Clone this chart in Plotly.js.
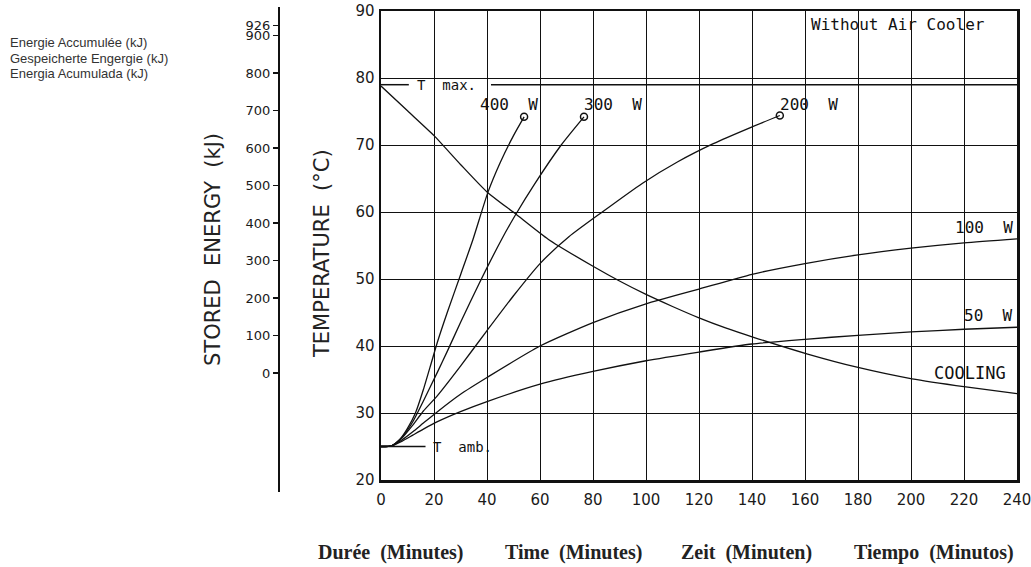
<!DOCTYPE html>
<html><head><meta charset="utf-8">
<script src="https://cdn.plot.ly/plotly-3.0.1.min.js"></script>
<style>html,body{margin:0;padding:0;background:#fff}#chart{width:1031px;height:567px}</style>
</head><body><div id="chart"></div>
<script>
// ---- data ----
const T_MAX = 79, T_AMB = 25;
const t400 = [0,4,7,10,13,16,19,21.3,25,30,34.7,40.4,45,50,54];
const T400 = [25,25.1,26,27.7,30,33.5,37.5,40.6,45,50.6,55.9,63,67.4,71.4,74.2];
const t300 = [0,4,8,12,16,21.3,25,30,37,45.5,50.5,58,68,76.6];
const T300 = [25,25.1,26.4,28.7,31.8,36.1,39.2,43.5,49.3,55.9,59.4,64.2,70,74.2];
const t200 = [0,4,8,12,16,21.3,30,40,50,60,70.9,83.5,98.7,112,125.4,139.4,150.5];
const T200 = [25,25.1,26.3,28.2,30.3,32.6,37,42.3,47.5,52.3,56.3,60,64.3,67.5,70.2,72.6,74.4];
const t100 = [0,4,8,12,16,21.3,30,40,60,80,100,120,140,160,180,200,220,240];
const T100 = [25,25.1,26,27.2,28.5,30.2,32.8,35.3,40,43.5,46.3,48.5,50.7,52.3,53.6,54.6,55.4,56];
const t50 = [0,4,8,12,16,21.3,30,40,60,80,100,120,140,160,180,200,220,240];
const T50 = [25,25.1,25.8,26.7,27.6,28.7,30.2,31.7,34.3,36.2,37.8,39.1,40.3,41,41.6,42.1,42.5,42.8];
const tCool = [0,10,20,30,40,50.5,63.2,80,90,100,110,120,130,140.6,161,180,200.4,220.7,240];
const TCool = [78.8,75.1,71.4,67.1,63,59.8,55.9,51.9,49.7,47.7,45.9,44.2,42.7,41.3,38.8,36.8,35.1,33.9,32.9];
const timeTicks = [0,20,40,60,80,100,120,140,160,180,200,220,240];
const tempTicks = [20,30,40,50,60,70,80,90];
const energyTicks = [0,100,200,300,400,500,600,700,800,900,926];
const energyTickText = ['0','100','200','300','400','500','600','700','800','900','926'];
const seriesLabels = ['400\u00a0\u00a0W','300\u00a0\u00a0W','200\u00a0\u00a0W','100\u00a0\u00a0W','50\u00a0\u00a0W','COOLING'];
const leftTexts = ['Energie Accumulée (kJ)','Gespeicherte Engergie (kJ)','Energia Acumulada (kJ)'];
const bottomTexts = ['Durée\u00a0\u00a0(Minutes)','Time\u00a0\u00a0(Minutes)','Zeit\u00a0\u00a0(Minuten)','Tiempo\u00a0\u00a0(Minutos)'];

// ---- pixel helpers for paper coordinates ----
const ML = 240, MR = 14, MT = 7, MB = 75, W = 1031, H = 567;
const PW = W - ML - MR, PH = H - MT - MB;
const px = v => (v - ML) / PW;
const py = v => (H - MB - v) / PH;

const lineStyle = {color:'#111', width:1.3, shape:'spline', smoothing:0.6};
function curve(x, y) {
  return {x:x, y:y, type:'scatter', mode:'lines', line:lineStyle, hoverinfo:'skip', showlegend:false, cliponaxis:false};
}
const ends = [[t400,T400],[t300,T300],[t200,T200]];
const traces = [
  curve(t400,T400), curve(t300,T300), curve(t200,T200),
  curve(t100,T100), curve(t50,T50), curve(tCool,TCool),
  {x: ends.map(e=>e[0][e[0].length-1]), y: ends.map(e=>e[1][e[1].length-1]),
   type:'scatter', mode:'markers', hoverinfo:'skip', showlegend:false,
   marker:{symbol:'circle-open', size:7, color:'#111', line:{width:1.5, color:'#111'}}},
  {x:[null], y:[null], xaxis:'x2', yaxis:'y2', type:'scatter', mode:'lines', showlegend:false, hoverinfo:'skip'}
];

const tickFont = {family:'DejaVu Sans', size:15, color:'#1a1a1a'};
const monoFont = {family:'DejaVu Sans Mono', size:16, color:'#111'};
function lab(text, x, y, extra) {
  return Object.assign({text:text, x:x, y:y, xref:'x', yref:'y', xanchor:'center', yanchor:'middle',
    showarrow:false, font:monoFont}, extra||{});
}
const annotations = [
  lab(seriesLabels[0], 48.4, 76),
  lab(seriesLabels[1], 87.6, 76),
  lab(seriesLabels[2], 161.5, 76.1),
  lab(seriesLabels[3], 227.4, 57.7),
  lab(seriesLabels[4], 229.3, 44.6),
  lab(seriesLabels[5], 222.3, 36, {font:{family:'DejaVu Sans Mono', size:17, color:'#111'}}),
  lab('Without Air Cooler', 195, 88),
  lab('T\u00a0\u00a0max.', 13, T_MAX, {xanchor:'left', font:{family:'DejaVu Sans Mono', size:14, color:'#111'}}),
  lab('T\u00a0\u00a0amb.', 18.7, T_AMB, {xanchor:'left', font:{family:'DejaVu Sans Mono', size:14, color:'#111'}}),
  {text:'STORED\u00a0\u00a0ENERGY\u00a0\u00a0(kJ)', xref:'paper', yref:'paper', x:px(213), y:py(250), textangle:-90,
   xanchor:'center', yanchor:'middle', showarrow:false, font:{family:'DejaVu Sans', size:21, color:'#222'}},
  {text:'TEMPERATURE\u00a0\u00a0(°C)', xref:'paper', yref:'paper', x:px(322), y:py(254), textangle:-90,
   xanchor:'center', yanchor:'middle', showarrow:false, font:{family:'DejaVu Sans', size:21, color:'#222'}}
];
[43,59,74].forEach((yy,i)=>annotations.push({text:leftTexts[i], xref:'paper', yref:'paper', x:px(8), y:py(yy),
  xanchor:'left', yanchor:'middle', showarrow:false, font:{family:'Liberation Sans', size:13, color:'#333'}}));
[316,503,679,852].forEach((xx,i)=>annotations.push({text:'<b>'+bottomTexts[i]+'</b>', xref:'paper', yref:'paper',
  x:px(xx), y:py(552), xanchor:'left', yanchor:'middle', showarrow:false,
  font:{family:'Liberation Serif', size:20, color:'#222'}}));

const shapes = [
  {type:'line', xref:'x', yref:'y', x0:0, x1:10.5, y0:T_MAX, y1:T_MAX, line:{color:'#111', width:1.5}},
  {type:'line', xref:'x', yref:'y', x0:41.5, x1:240, y0:T_MAX, y1:T_MAX, line:{color:'#111', width:1.5}},
  {type:'line', xref:'x', yref:'y', x0:0, x1:16.8, y0:T_AMB, y1:T_AMB, line:{color:'#111', width:1.3}}
];

const layout = {
  width:W, height:H, margin:{l:ML, r:MR, t:MT, b:MB, pad:0},
  paper_bgcolor:'#fff', plot_bgcolor:'rgba(0,0,0,0)', showlegend:false,
  font:{family:'DejaVu Sans', size:15, color:'#1a1a1a'},
  xaxis:{domain:[px(381),1], range:[0,240], tickmode:'array', tickvals:timeTicks, ticklabeloverflow:'allow',
    showgrid:true, gridcolor:'#111', gridwidth:1,
    showline:true, linecolor:'#111', linewidth:2.5, mirror:true, zeroline:false,
    ticks:'outside', ticklen:4, tickcolor:'rgba(0,0,0,0)', tickfont:tickFont, fixedrange:true},
  yaxis:{domain:[py(480),py(11)], range:[20,90], tickmode:'array', tickvals:tempTicks, ticklabeloverflow:'allow',
    showgrid:true, gridcolor:'#111', gridwidth:1,
    showline:true, linecolor:'#111', linewidth:2.5, mirror:true, zeroline:false,
    ticks:'outside', ticklen:1, tickcolor:'rgba(0,0,0,0)', tickfont:tickFont, fixedrange:true},
  xaxis2:{domain:[0,0.001], anchor:'y2', visible:false, range:[0,1], fixedrange:true},
  yaxis2:{domain:[0,1], anchor:'free', position:px(279), range:[-317.33,976],
    tickvals:energyTicks, ticktext:energyTickText, showgrid:false, zeroline:false,
    showline:true, linecolor:'#111', linewidth:2.2, ticks:'outside', ticklen:5, tickwidth:1.2, tickcolor:'#111',
    tickfont:{family:'DejaVu Sans', size:13, color:'#1a1a1a'}, fixedrange:true},
  annotations:annotations, shapes:shapes
};
Plotly.newPlot('chart', traces, layout, {staticPlot:true, displayModeBar:false});
</script></body></html>
